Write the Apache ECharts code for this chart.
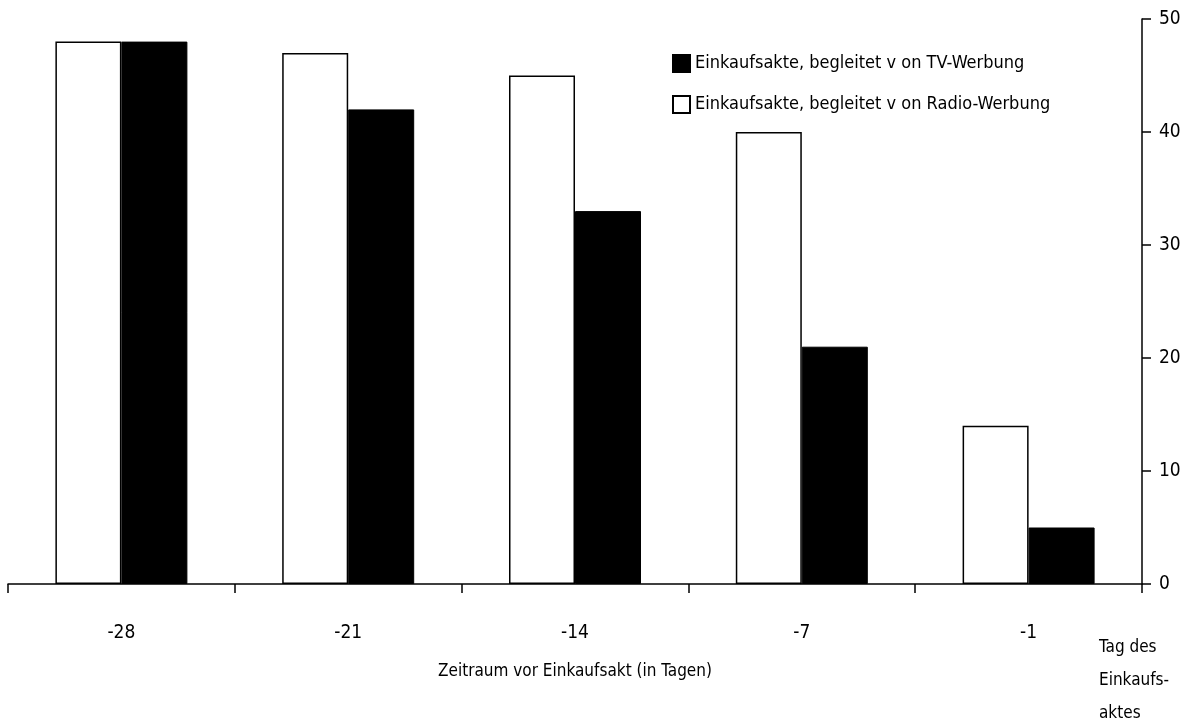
<!DOCTYPE html>
<html>
<head>
<meta charset="utf-8">
<script src="https://cdn.jsdelivr.net/npm/echarts@6/dist/echarts.min.js"></script>
<style>
  html, body { margin: 0; padding: 0; background: #fff; }
  #chart { width: 1185px; height: 726px; }
</style>
</head>
<body>
<div id="chart"></div>
<script>
// Days before the purchase
const categories = ['-28', '-21', '-14', '-7', '-1'];
// Purchases accompanied by radio advertising (white bars)
const radioValues = [48, 47, 45, 40, 14];
// Purchases accompanied by TV advertising (black bars)
const tvValues = [48, 42, 33, 21, 5];
const yTicks = { min: 0, max: 50, interval: 10 };

const seriesNames = {
  tv: 'Einkaufsakte, begleitet v on TV-Werbung',
  radio: 'Einkaufsakte, begleitet v on Radio-Werbung'
};

const FONT = "'Liberation Sans Narrow', 'Arial Narrow', 'DejaVu Sans Condensed', sans-serif";

const chart = echarts.init(document.getElementById('chart'), null, { renderer: 'canvas' });
chart.setOption({
  animation: false,
  backgroundColor: '#ffffff',
  textStyle: { fontFamily: FONT, color: '#000' },
  grid: { left: 8, right: 43, top: 19, bottom: 142, containLabel: false },
  legend: {
    orient: 'vertical',
    left: 667,
    top: 49,
    icon: 'rect',
    itemWidth: 17,
    itemHeight: 17,
    itemGap: 22,
    data: [seriesNames.tv, seriesNames.radio],
    textStyle: { fontFamily: FONT, fontSize: 18, color: '#000', padding: [0, 0, 0, 0] },
    selectedMode: false
  },
  xAxis: {
    type: 'category',
    data: categories,
    boundaryGap: true,
    axisLine: { show: true, lineStyle: { color: '#000', width: 1.5 } },
    axisTick: { show: true, length: 9, alignWithLabel: false, lineStyle: { color: '#000', width: 1.5 } },
    axisLabel: { fontFamily: FONT, fontSize: 19, color: '#000', margin: 40 },
    splitLine: { show: false },
    name: 'Zeitraum vor Einkaufsakt (in Tagen)',
    nameLocation: 'middle',
    nameGap: 79,
    nameTextStyle: { fontFamily: FONT, fontSize: 17, color: '#000' }
  },
  yAxis: {
    type: 'value',
    position: 'right',
    min: yTicks.min,
    max: yTicks.max,
    interval: yTicks.interval,
    axisLine: { show: true, lineStyle: { color: '#000', width: 1.5 } },
    axisTick: { show: true, length: 9, inside: false, lineStyle: { color: '#000', width: 1.5 } },
    axisLabel: { fontFamily: FONT, fontSize: 19, color: '#000', margin: 17 },
    splitLine: { show: false }
  },
  series: [
    {
      name: seriesNames.radio,
      type: 'bar',
      data: radioValues,
      barWidth: 66,
      barGap: '0%',
      itemStyle: { color: '#ffffff', borderColor: '#000', borderWidth: 1.5 }
    },
    {
      name: seriesNames.tv,
      type: 'bar',
      data: tvValues,
      barWidth: 66,
      barGap: '0%',
      itemStyle: { color: '#000000', borderColor: '#000', borderWidth: 1 }
    }
  ],
  graphic: [
    {
      type: 'text',
      left: 1099,
      top: 631,
      style: {
        text: 'Tag des\nEinkaufs-\naktes',
        fontFamily: FONT,
        fontSize: 17,
        lineHeight: 33,
        fill: '#000'
      }
    }
  ]
});
</script>
</body>
</html>
